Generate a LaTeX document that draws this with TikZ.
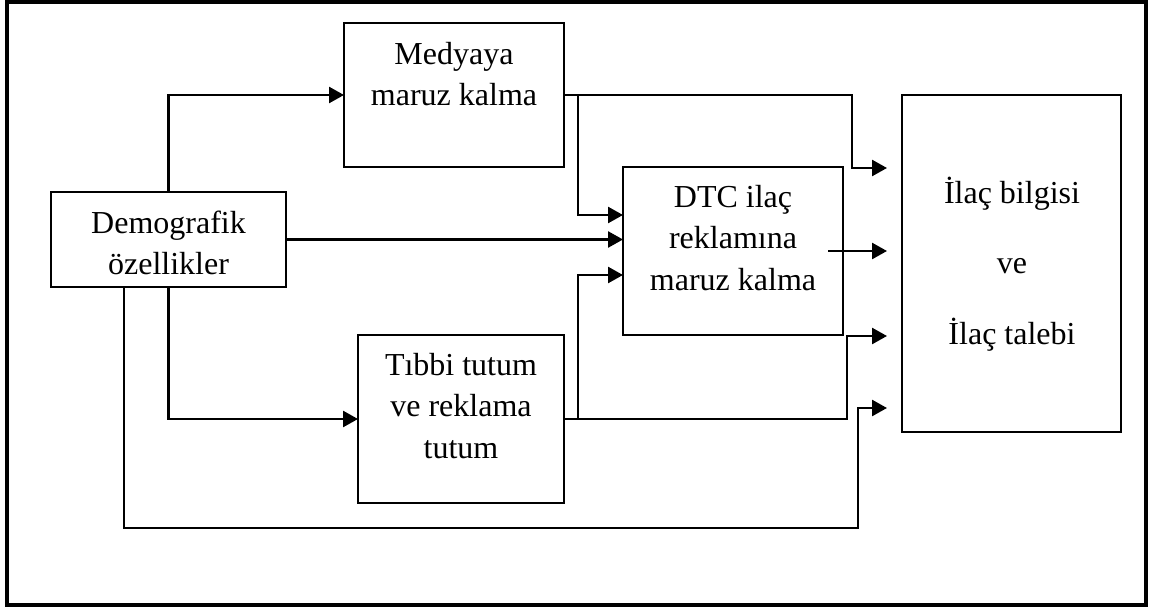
\documentclass[tikz,border=0pt]{standalone}
\usepackage{fontspec}
\setmainfont{Liberation Serif}
\usetikzlibrary{arrows.meta}
% centred stack of lines whose baseline is that of the first line
\newcommand{\boxtext}[1]{\begin{tabular}[t]{@{}c@{}}#1\end{tabular}}
\begin{document}
\begin{tikzpicture}[x=1pt,y=-1pt,
  blk/.style={draw, line width=2pt, inner sep=0pt, outer sep=0pt},
  txt/.style={anchor=base, inner sep=0pt, font=\fontsize{32}{41.5}\selectfont},
  widetxt/.style={anchor=base, inner sep=0pt, font=\fontsize{32}{70.5}\selectfont},
  conn/.style={line width=2.6pt, -{Triangle[length=15pt,width=16pt]}}]
\useasboundingbox (0,0) rectangle (1150,610);
\draw[line width=4pt] (7,2) rectangle (1146,605);

% boxes
\node[blk, minimum width=235pt, minimum height=95pt]  (demo)  at (168.5,239.5) {};
\node[blk, minimum width=220pt, minimum height=144pt] (medya) at (454,95) {};
\node[blk, minimum width=220pt, minimum height=168pt] (dtc)   at (733,251) {};
\node[blk, minimum width=206pt, minimum height=168pt] (tibbi) at (461,419) {};
\node[blk, minimum width=219pt, minimum height=337pt] (ilac)  at (1011.5,263.5) {};

% box texts
\node[txt] (demoT)  at (168.5,233) {\boxtext{Demografik\\özellikler}};
\node[txt] (medyaT) at (454,64)    {\boxtext{Medyaya\\maruz kalma}};
\node[txt] (dtcT)   at (733,207)   {\boxtext{DTC ilaç\\reklamına\\maruz kalma}};
\node[txt] (tibbiT) at (461,375)   {\boxtext{Tıbbi tutum\\ve reklama\\tutum}};
\node[widetxt] (ilacT) at (1012,203) {\boxtext{İlaç bilgisi\\ve\\İlaç talebi}};

% demographics
\draw[conn] (demo.north) |- (medya.west);
\draw[conn] (demo.south) |- (tibbi.west);
\draw[conn] (demo.east) -- (demo.east -| dtc.west);
\draw[conn, shorten >=15pt] ([xshift=-44.5pt]demo.south) |- (858,528) |- (ilac.west |- 0,408);

% media exposure
\draw[conn] (medya.east) -- (578,95) |- (dtc.west |- 0,215);
\draw[conn, shorten >=15pt] (medya.east) -- (852,95) |- (ilac.west |- 0,168);

% medical attitude
\draw[conn] (tibbi.east) -- (578,419) |- (dtc.west |- 0,275);
\draw[conn, shorten >=15pt] (tibbi.east) -- (847,419) |- (ilac.west |- 0,336);

% DTC advertising exposure
\draw[conn, shorten >=15pt] ([xshift=-15pt]dtc.east) -- (dtc.east -| ilac.west);
\end{tikzpicture}
\end{document}
